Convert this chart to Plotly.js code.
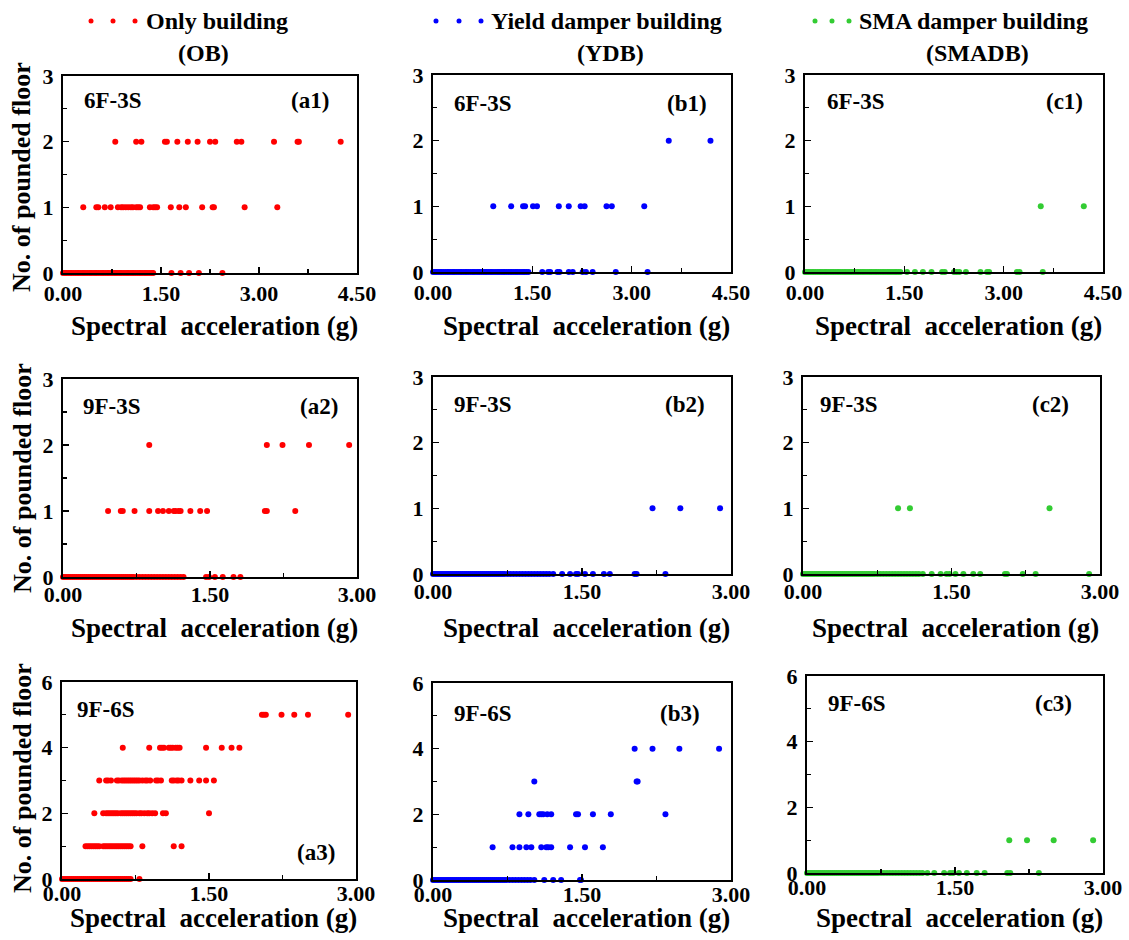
<!DOCTYPE html>
<html>
<head>
<meta charset="utf-8">
<script src="https://cdn.plot.ly/plotly-3.0.1.min.js"></script>
<style>
  html, body { margin: 0; padding: 0; background: #fff; }
  #chart { width: 1129px; height: 940px; }
</style>
</head>
<body>
<div id="chart"></div>
<script>
// Number of pounded floors versus spectral acceleration (g)
// Columns: OB / YDB / SMADB, rows: 6F-3S / 9F-3S / 9F-6S

const buildingNames = ['Only building', 'Yield damper building', 'SMA damper building'];
const buildingAbbr = ['(OB)', '(YDB)', '(SMADB)'];
const buildingColors = ['#ff0000', '#0000ff', '#33cc33'];
const caseNames = ['6F-3S', '9F-3S', '9F-6S'];
const panelTags = ['(a1)', '(b1)', '(c1)', '(a2)', '(b2)', '(c2)', '(a3)', '(b3)', '(c3)'];
const xTickText = ['0.00', '1.50', '3.00', '4.50'];

// ---- OB, 6F-3S (a1) ----
const ob6f3s_floor0 = [0.00,0.03,0.05,0.08,0.11,0.13,0.16,0.19,0.22,0.24,0.27,0.30,0.32,0.35,0.38,0.41,0.43,0.46,0.49,0.51,0.54,0.57,0.60,0.62,0.65,0.68,0.70,0.73,0.76,0.79,0.81,0.84,0.87,0.89,0.92,0.95,0.98,1.00,1.03,1.06,1.08,1.11,1.14,1.17,1.19,1.22,1.25,1.27,1.30,1.33,1.36,1.38,1.66,1.80,1.93,2.08,2.44];
const ob6f3s_floor1 = [0.31,0.51,0.54,0.64,0.73,0.84,0.89,0.92,0.96,1.00,1.04,1.07,1.12,1.15,1.18,1.33,1.38,1.41,1.44,1.65,1.78,1.88,2.13,2.29,2.31,2.78,3.28];
const ob6f3s_floor2 = [0.80,1.12,1.20,1.56,1.59,1.75,1.91,2.06,2.25,2.33,2.66,2.73,3.23,3.59,3.61,4.25];

// ---- YDB, 6F-3S (b1) ----
const ydb6f3s_floor0 = [0.00,0.03,0.05,0.08,0.11,0.13,0.16,0.19,0.22,0.24,0.27,0.30,0.32,0.35,0.38,0.41,0.43,0.46,0.49,0.51,0.54,0.57,0.60,0.62,0.65,0.68,0.70,0.73,0.76,0.79,0.81,0.84,0.87,0.89,0.92,0.95,0.98,1.00,1.03,1.06,1.08,1.11,1.14,1.17,1.19,1.22,1.25,1.27,1.30,1.33,1.36,1.38,1.41,1.44,1.65,1.74,1.77,1.88,1.91,2.05,2.11,2.26,2.31,2.41,2.76,3.24];
const ydb6f3s_floor1 = [0.91,1.18,1.36,1.39,1.51,1.57,1.90,2.05,2.23,2.29,2.62,2.70,3.19];
const ydb6f3s_floor2 = [3.56,4.19];

// ---- SMADB, 6F-3S (c1) ----
const sma6f3s_floor0 = [0.00,0.03,0.05,0.08,0.11,0.13,0.16,0.19,0.22,0.24,0.27,0.30,0.32,0.35,0.38,0.41,0.43,0.46,0.49,0.51,0.54,0.57,0.60,0.62,0.65,0.68,0.70,0.73,0.76,0.79,0.81,0.84,0.87,0.89,0.92,0.95,0.98,1.00,1.03,1.06,1.08,1.11,1.14,1.17,1.19,1.22,1.25,1.27,1.30,1.33,1.36,1.38,1.41,1.44,1.54,1.66,1.78,1.91,2.07,2.11,2.25,2.29,2.33,2.43,2.65,2.75,2.78,3.20,3.24,3.59];
const sma6f3s_floor1 = [3.56,4.21];

// ---- OB, 9F-3S (a2) ----
const ob9f3s_floor0 = [0.00,0.02,0.04,0.06,0.08,0.10,0.12,0.14,0.16,0.18,0.20,0.22,0.24,0.26,0.28,0.30,0.32,0.34,0.36,0.38,0.40,0.42,0.44,0.46,0.48,0.50,0.52,0.54,0.56,0.58,0.60,0.62,0.64,0.66,0.68,0.70,0.72,0.75,0.78,0.81,0.84,0.87,0.90,0.93,0.96,0.99,1.02,1.05,1.08,1.11,1.14,1.17,1.20,1.23,1.46,1.49,1.55,1.63,1.74,1.81];
const ob9f3s_floor1 = [0.46,0.59,0.61,0.73,0.88,0.97,1.02,1.08,1.13,1.15,1.18,1.20,1.30,1.40,1.47,2.06,2.08,2.37];
const ob9f3s_floor2 = [0.88,2.08,2.24,2.51,2.92];

// ---- YDB, 9F-3S (b2) ----
const ydb9f3s_floor0 = [0.00,0.02,0.04,0.06,0.08,0.10,0.12,0.14,0.16,0.18,0.20,0.22,0.24,0.26,0.28,0.30,0.32,0.34,0.36,0.38,0.40,0.42,0.44,0.46,0.48,0.50,0.52,0.54,0.56,0.58,0.60,0.62,0.64,0.66,0.68,0.70,0.72,0.75,0.78,0.81,0.84,0.87,0.90,0.93,0.96,0.99,1.02,1.05,1.08,1.11,1.14,1.17,1.21,1.30,1.38,1.44,1.46,1.53,1.61,1.72,1.78,2.03,2.05,2.34];
const ydb9f3s_floor1 = [2.21,2.49,2.89];

// ---- SMADB, 9F-3S (c2) ----
const sma9f3s_floor0 = [0.00,0.02,0.04,0.06,0.08,0.10,0.12,0.14,0.16,0.18,0.20,0.22,0.24,0.26,0.28,0.30,0.32,0.34,0.36,0.38,0.40,0.42,0.44,0.46,0.48,0.50,0.52,0.54,0.56,0.58,0.60,0.62,0.64,0.66,0.68,0.70,0.72,0.75,0.78,0.81,0.84,0.87,0.90,0.93,0.96,0.99,1.02,1.05,1.08,1.11,1.14,1.17,1.21,1.30,1.39,1.45,1.48,1.54,1.62,1.72,1.79,2.04,2.06,2.22,2.35,2.89];
const sma9f3s_floor1 = [0.96,1.08,2.49];

// ---- OB, 9F-6S (a3) ----
const ob9f6s_floor0 = [0.00,0.02,0.04,0.06,0.08,0.10,0.12,0.14,0.16,0.18,0.20,0.22,0.24,0.26,0.28,0.30,0.32,0.34,0.36,0.38,0.40,0.42,0.44,0.46,0.48,0.50,0.52,0.54,0.56,0.58,0.60,0.62,0.64,0.66,0.68,0.70,0.79];
const ob9f6s_floor1 = [0.24,0.26,0.28,0.30,0.32,0.34,0.36,0.38,0.42,0.44,0.46,0.48,0.50,0.52,0.54,0.56,0.58,0.60,0.62,0.64,0.66,0.68,0.70,0.82,1.14,1.22];
const ob9f6s_floor2 = [0.33,0.42,0.45,0.47,0.49,0.51,0.53,0.55,0.57,0.60,0.62,0.64,0.66,0.68,0.70,0.72,0.74,0.76,0.79,0.81,0.84,0.87,0.89,0.92,0.95,1.03,1.06,1.50];
const ob9f6s_floor3 = [0.38,0.45,0.47,0.50,0.56,0.58,0.61,0.63,0.65,0.67,0.69,0.71,0.73,0.75,0.77,0.79,0.82,0.85,0.87,0.90,0.96,0.98,1.01,1.12,1.14,1.17,1.19,1.22,1.31,1.40,1.47,1.55];
const ob9f6s_floor4 = [0.62,0.89,1.00,1.02,1.04,1.09,1.11,1.13,1.16,1.18,1.20,1.47,1.63,1.73,1.81];
const ob9f6s_floor5 = [2.04,2.06,2.08,2.24,2.37,2.51,2.92];

// ---- YDB, 9F-6S (b3) ----
const ydb9f6s_floor0 = [0.00,0.02,0.04,0.06,0.08,0.10,0.12,0.14,0.16,0.18,0.20,0.22,0.24,0.26,0.28,0.30,0.32,0.34,0.36,0.38,0.40,0.42,0.44,0.46,0.48,0.50,0.52,0.54,0.56,0.58,0.60,0.62,0.64,0.66,0.68,0.70,0.72,0.74,0.77,0.80,0.83,0.86,0.89,0.92,0.95,0.98,1.02,1.12,1.21,1.29,1.48,1.49];
const ydb9f6s_floor1 = [0.60,0.80,0.87,0.94,0.99,1.09,1.14,1.16,1.19,1.38,1.53,1.71];
const ydb9f6s_floor2 = [0.87,0.96,1.07,1.09,1.11,1.15,1.19,1.44,1.46,1.61,1.79,2.34];
const ydb9f6s_floor3 = [1.02,2.05,2.06];
const ydb9f6s_floor4 = [2.03,2.21,2.48,2.88];

// ---- SMADB, 9F-6S (c3) ----
const sma9f6s_floor0 = [0.00,0.02,0.04,0.06,0.08,0.10,0.12,0.14,0.16,0.18,0.20,0.22,0.24,0.26,0.28,0.30,0.32,0.34,0.36,0.38,0.40,0.42,0.44,0.46,0.48,0.50,0.52,0.54,0.56,0.58,0.60,0.62,0.64,0.66,0.68,0.70,0.72,0.75,0.78,0.81,0.84,0.87,0.90,0.93,0.96,0.99,1.02,1.05,1.08,1.11,1.14,1.17,1.22,1.29,1.39,1.45,1.48,1.54,1.62,1.72,1.80,2.03,2.06,2.35];
const sma9f6s_floor1 = [2.05,2.23,2.50,2.90];

// Series grouped per panel: index in each list = number of pounded floors
const panelSeries = [
  [ob6f3s_floor0, ob6f3s_floor1, ob6f3s_floor2],
  [ydb6f3s_floor0, ydb6f3s_floor1, ydb6f3s_floor2],
  [sma6f3s_floor0, sma6f3s_floor1],
  [ob9f3s_floor0, ob9f3s_floor1, ob9f3s_floor2],
  [ydb9f3s_floor0, ydb9f3s_floor1],
  [sma9f3s_floor0, sma9f3s_floor1],
  [ob9f6s_floor0, ob9f6s_floor1, ob9f6s_floor2, ob9f6s_floor3, ob9f6s_floor4, ob9f6s_floor5],
  [ydb9f6s_floor0, ydb9f6s_floor1, ydb9f6s_floor2, ydb9f6s_floor3, ydb9f6s_floor4],
  [sma9f6s_floor0, sma9f6s_floor1]
];

// ---------- layout geometry (pixels) ----------
const W = 1129, H = 940;
const fx = p => p / W;
const fy = p => 1 - p / H;

const panelBoxes = [
  {x: [63, 357], y: [76, 273]},
  {x: [433, 731], y: [75, 272]},
  {x: [805, 1103], y: [75, 272]},
  {x: [63, 357], y: [379, 577]},
  {x: [433, 731], y: [377, 574]},
  {x: [803, 1100], y: [377, 574]},
  {x: [62, 356], y: [682, 879]},
  {x: [433, 731], y: [683, 880]},
  {x: [807, 1103], y: [676, 873]}
];
// Positions of the case name and panel tag inside each panel
const caseLabelPos = [[82, 101], [452, 103], [825, 102], [81, 407], [452, 404], [818, 404], [75, 709], [452, 713], [826, 703]];
const tagLabelPos = [[331, 101], [709, 103], [1085, 102], [340, 407], [707, 404], [1071, 404], [337, 852], [702, 713], [1074, 703]];

const FONT = '"Liberation Serif", "Times New Roman", Times, serif';
const bold = (size) => ({family: FONT, size: size, color: '#000', weight: 'bold'});
const traces = [];
const layout = {
  width: W, height: H,
  margin: {l: 0, r: 0, t: 0, b: 0},
  paper_bgcolor: '#ffffff',
  plot_bgcolor: '#ffffff',
  showlegend: false,
  font: bold(22),
  annotations: [],
  shapes: []
};

panelSeries.forEach((series, i) => {
  const row = Math.floor(i / 3), col = i % 3;
  const n = i + 1;
  const xa = n === 1 ? 'x' : 'x' + n;
  const ya = n === 1 ? 'y' : 'y' + n;
  const xs = [], ys = [];
  series.forEach((vals, floors) => vals.forEach(v => { xs.push(v); ys.push(floors); }));
  traces.push({
    type: 'scatter', mode: 'markers', x: xs, y: ys, xaxis: xa, yaxis: ya,
    cliponaxis: false, hoverinfo: 'x+y',
    marker: {size: 6, color: buildingColors[col], line: {width: 0}}
  });

  const box = panelBoxes[i];
  const nTicks = row === 0 ? 4 : 3;
  layout[n === 1 ? 'xaxis' : 'xaxis' + n] = {
    domain: [fx(box.x[0]), fx(box.x[1])], anchor: ya,
    range: [0, row === 0 ? 4.5 : 3.0], tickmode: 'array',
    tickvals: xTickText.slice(0, nTicks).map(Number),
    ticktext: xTickText.slice(0, nTicks),
    ticks: 'inside', ticklen: 6, tickwidth: 1.5, tickcolor: '#000',
    ticklabelstandoff: [0, -3, -6][row],
    minor: {tickvals: row === 0 ? [0.75, 2.25, 3.75] : [0.75, 2.25], ticks: 'inside', ticklen: 4, tickwidth: 1.2, tickcolor: '#000'},
    showline: true, linecolor: '#000', linewidth: 2, mirror: true,
    showgrid: false, zeroline: false, fixedrange: true,
    tickfont: bold(22)
  };
  layout[n === 1 ? 'yaxis' : 'yaxis' + n] = {
    domain: [fy(box.y[1]), fy(box.y[0])], anchor: xa,
    range: [0, row === 2 ? 6 : 3], dtick: row === 2 ? 2 : 1, tick0: 0,
    ticks: 'inside', ticklen: 6, tickwidth: 1.5, tickcolor: '#000',
    ticklabelstandoff: 3,
    minor: {dtick: row === 2 ? 1 : 0.5, tick0: 0, ticks: 'inside', ticklen: 4, tickwidth: 1.2, tickcolor: '#000'},
    showline: true, linecolor: '#000', linewidth: 2, mirror: true,
    showgrid: false, zeroline: false, fixedrange: true,
    tickfont: bold(22)
  };

  // case name and panel tag
  layout.annotations.push({
    xref: 'paper', yref: 'paper', x: fx(caseLabelPos[i][0]), y: fy(caseLabelPos[i][1]),
    xanchor: 'left', yanchor: 'middle', showarrow: false, text: caseNames[row], font: bold(23)
  });
  layout.annotations.push({
    xref: 'paper', yref: 'paper', x: fx(tagLabelPos[i][0]), y: fy(tagLabelPos[i][1]),
    xanchor: 'right', yanchor: 'middle', showarrow: false, text: panelTags[i], font: bold(23)
  });
  // x-axis title under each panel
  const titleY = [326, 628, 918][row];
  layout.annotations.push({
    xref: 'paper', yref: 'paper', x: fx((box.x[0] + box.x[1]) / 2 + 4), y: fy(titleY),
    xanchor: 'center', yanchor: 'middle', showarrow: false,
    text: 'Spectral&nbsp; acceleration (g)', font: bold(27)
  });
});

// y-axis titles, one per row
[177, 478, 778].forEach(cy => {
  layout.annotations.push({
    xref: 'paper', yref: 'paper', x: fx(22), y: fy(cy),
    xanchor: 'center', yanchor: 'middle', showarrow: false, textangle: -90,
    text: 'No. of pounded floor', font: bold(26)
  });
});

// Legend row: three dots followed by the building name, abbreviation beneath
const legendDotX = [[91, 113, 135], [436, 459, 481], [815, 832, 849]];
const legendTextX = [144, 489, 857];
const legendAbbrX = [203, 611, 977];
buildingNames.forEach((name, k) => {
  legendDotX[k].forEach(cx => {
    layout.shapes.push({
      type: 'circle', xref: 'paper', yref: 'paper',
      x0: fx(cx - 2.5), x1: fx(cx + 2.5), y0: fy(21 + 2.5), y1: fy(21 - 2.5),
      fillcolor: buildingColors[k], line: {width: 0}
    });
  });
  layout.annotations.push({
    xref: 'paper', yref: 'paper', x: fx(legendTextX[k]), y: fy(21),
    xanchor: 'left', yanchor: 'middle', showarrow: false, text: name, font: bold(24)
  });
  layout.annotations.push({
    xref: 'paper', yref: 'paper', x: fx(legendAbbrX[k]), y: fy(53),
    xanchor: 'center', yanchor: 'middle', showarrow: false, text: buildingAbbr[k], font: bold(24)
  });
});

Plotly.newPlot('chart', traces, layout, {staticPlot: true, displayModeBar: false});
</script>
</body>
</html>
